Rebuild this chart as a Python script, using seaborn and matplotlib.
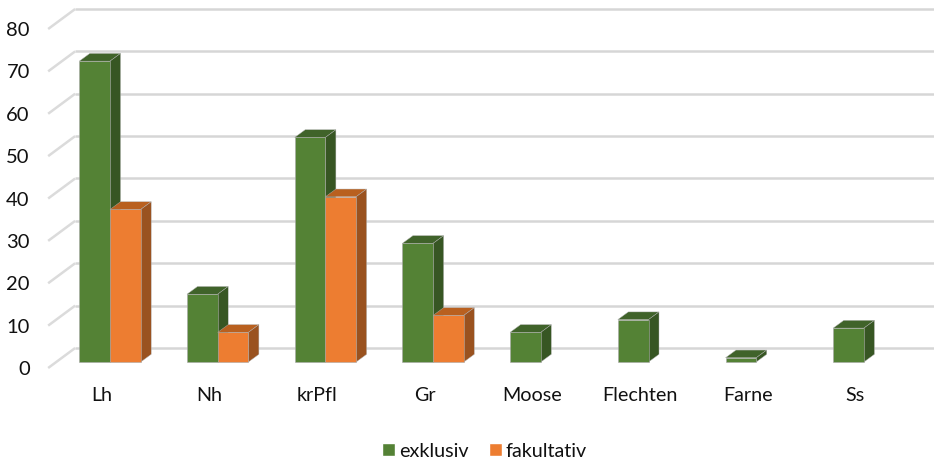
import pandas as pd
import matplotlib
matplotlib.use("Agg")
import matplotlib.pyplot as plt
import seaborn as sns
from matplotlib.patches import Polygon
from matplotlib.transforms import ScaledTranslation

# data
categories = ["Lh", "Nh", "krPfl", "Gr", "Moose", "Flechten", "Farne", "Ss"]
exklusiv = [71, 16, 53, 28, 7, 10, 1, 8]
fakultativ = [36, 7, 39, 11, 0, 0, 0, 0]
y_ticks = [0, 10, 20, 30, 40, 50, 60, 70, 80]

df = pd.DataFrame({"Gruppe": categories, "exklusiv": exklusiv, "fakultativ": fakultativ})
df = df.melt(id_vars="Gruppe", var_name="Typ", value_name="Anzahl")

sns.set_theme(style="white")
plt.rcParams["font.family"] = ["Lato", "DejaVu Sans"]

W, H = 934, 461
STEP = 107.7
fig = plt.figure(figsize=(W / 100, H / 100), dpi=100)
# axes box = the plane the bars stand on
left = 110 - 0.5 * STEP
ax = fig.add_axes([left / W, 1 - 362 / H, (W - left) / W, 339 / H])

palette = {"exklusiv": "#548235", "fakultativ": "#ED7D31"}
sns.barplot(data=df, x="Gruppe", y="Anzahl", hue="Typ", palette=palette,
            width=0.57, gap=0, saturation=1, ax=ax, legend=True)

ax.set_xlim(-0.5, (W - 110) / STEP)
ax.set_ylim(0, 80)
ax.set_xlabel("")
ax.set_ylabel("")
ax.set_yticks(y_ticks)
sns.despine(ax=ax, left=True, bottom=True)
ax.tick_params(axis="y", length=0, pad=19, labelsize=14.5, labelcolor="#111111")
ax.tick_params(axis="x", length=0, pad=18, labelsize=14.2, labelcolor="#111111")

# the fake 3d look, all in data units
px_x = 1 / STEP
px_y = 80 / 339
bar_dx, bar_dy = 10.5 * px_x, 7.7 * px_y
floor_front_x, floor_front_y = -8 * px_x - 0.5, -6 * px_y
wall_x, wall_y = 19 * px_x - 0.5, 14 * px_y

# gridlines: back wall plus the slanted bit on the left
for v in y_ticks:
    ax.plot([wall_x, ax.get_xlim()[1]], [v + wall_y, v + wall_y], color="#d6d6d6", lw=1.8,
            zorder=1, clip_on=False, solid_capstyle="butt")
    ax.plot([floor_front_x, wall_x], [v + floor_front_y, v + wall_y], color="#dbdbdb", lw=1.8,
            zorder=1, clip_on=False, solid_capstyle="butt")

shades = [("#40632A", "#375623"), ("#B9601F", "#9A521F")]
for i, container in enumerate(ax.containers):
    top_col, side_col = shades[i]
    base_z = 3 + 2 * i
    for bar in container.patches:
        h = bar.get_height()
        if h == 0:
            bar.set_visible(False)
            continue
        x0, x1 = bar.get_x(), bar.get_x() + bar.get_width()
        top = [(x0, h), (x1, h), (x1 + bar_dx, h + bar_dy), (x0 + bar_dx, h + bar_dy)]
        side = [(x1, 0), (x1 + bar_dx, bar_dy), (x1 + bar_dx, h + bar_dy), (x1, h)]
        ax.add_patch(Polygon(top, closed=True, fc=top_col, ec="#b0b0b0", lw=0.3, zorder=base_z, clip_on=False))
        ax.add_patch(Polygon(side, closed=True, fc=side_col, ec="#b0b0b0", lw=0.3, zorder=base_z, clip_on=False))
        bar.set_zorder(base_z + 1)
        bar.set_edgecolor("#a8a8a8")
        bar.set_linewidth(0.4)
        bar.set_clip_on(False)

# labels sit on the front plane, not the bar plane
y_shift = ScaledTranslation(0, -6 / 100, fig.dpi_scale_trans)
x_shift = ScaledTranslation(-8.5 / 100, 0, fig.dpi_scale_trans)
for lab in ax.get_yticklabels():
    lab.set_transform(lab.get_transform() + y_shift)
for lab in ax.get_xticklabels():
    lab.set_transform(lab.get_transform() + x_shift)

handles, labels = ax.get_legend_handles_labels()
ax.legend(handles, labels, loc="center", bbox_to_anchor=(484.5 / W, 1 - 451 / H),
          bbox_transform=fig.transFigure, ncol=2, frameon=False, fontsize=14.2,
          handlelength=0.66, handleheight=0.66, handletextpad=0.2, columnspacing=1.0,
          labelcolor="#111111")

fig.savefig("out.png", dpi=100)
